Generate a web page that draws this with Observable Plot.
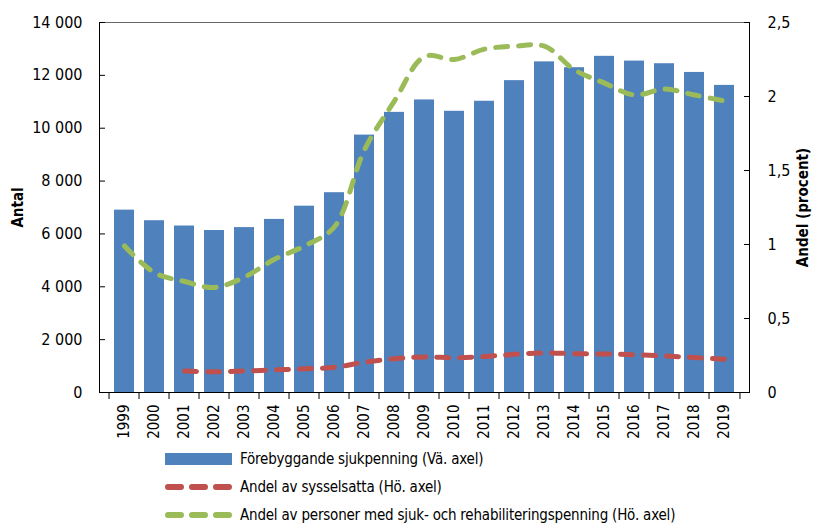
<!DOCTYPE html>
<html><head><meta charset="utf-8">
<script src="https://cdn.jsdelivr.net/npm/d3@7"></script>
<script src="https://cdn.jsdelivr.net/npm/@observablehq/plot@0.6"></script>
<style>
body{margin:0;background:#fff;font-family:"Liberation Sans Narrow","DejaVu Sans Condensed",sans-serif;}
#chart svg{display:block;}
#legend{position:relative;width:814px;height:85px;}
.row{position:absolute;left:165px;height:18px;display:flex;align-items:center;font-size:15px;letter-spacing:-0.2px;color:#000;white-space:nowrap;}
.row svg{display:block;margin-right:8px;}
</style></head><body>
<div id="chart"></div>
<div id="legend"></div>
<script>
const years = ["1999","2000","2001","2002","2003","2004","2005","2006","2007","2008","2009","2010","2011","2012","2013","2014","2015","2016","2017","2018","2019"];
const antal = [6900,6500,6300,6130,6240,6550,7050,7560,9740,10600,11070,10640,11020,11800,12510,12290,12720,12540,12440,12110,11620];
const andelSysselsatta = [null,null,0.145,0.14,0.145,0.153,0.16,0.17,0.205,0.228,0.24,0.235,0.243,0.258,0.268,0.262,0.26,0.255,0.247,0.236,0.225];
const andelSjukRehab = [0.99,0.81,0.75,0.71,0.78,0.90,0.99,1.12,1.64,1.97,2.27,2.25,2.32,2.34,2.34,2.18,2.09,2.01,2.05,2.01,1.97];
const leftTicks = [0,2000,4000,6000,8000,10000,12000,14000];
const rightTicks = [0,0.5,1,1.5,2,2.5];
const seriesNames = ["Förebyggande sjukpenning (Vä. axel)","Andel av sysselsatta (Hö. axel)","Andel av personer med sjuk- och rehabiliteringspenning (Hö. axel)"];
const colors = ["#4F81BD","#C0504D","#9BBB59"];
const leftTitle = "Antal", rightTitle = "Andel (procent)";

const leftMax = 14000, rightMax = 2.5, k = leftMax / rightMax;
const se = d3.formatLocale({decimal: ",", thousands: " ", grouping: [3], currency: ["", " kr"]});
const fmtL = se.format(",d");
const fmtR = d => String(Math.round(d / k * 10) / 10).replace(".", ",");

const bars = years.map((y, i) => ({year: y, value: antal[i]}));
const red = years.map((y, i) => ({year: y, value: andelSysselsatta[i]})).filter(d => d.value != null);
const green = years.map((y, i) => ({year: y, value: andelSjukRehab[i]}));

const W = 814, H = 440, ML = 99, MR = 65, MT = 22, MB = 48;
const step = (W - ML - MR) / years.length;
const font = '"Liberation Sans Narrow","DejaVu Sans Condensed",sans-serif';

const chart = Plot.plot({
  width: W, height: H, marginLeft: ML, marginRight: MR, marginTop: MT, marginBottom: MB,
  style: {fontFamily: font, fontSize: "16px", color: "#000", background: "#fff"},
  x: {type: "band", domain: years, paddingInner: 0.33, paddingOuter: 0.165, label: null},
  y: {domain: [0, leftMax], label: null},
  marks: [
    Plot.barY(bars, {x: "year", y: "value", fill: colors[0]}),
    Plot.line(red, {x: "year", y: d => d.value * k, stroke: colors[1], strokeWidth: 5, strokeDasharray: "12,11", strokeLinecap: "round", curve: "catmull-rom"}),
    Plot.line(green, {x: "year", y: d => d.value * k, stroke: colors[2], strokeWidth: 5, strokeDasharray: "12,11", strokeLinecap: "round", curve: "catmull-rom"}),
    Plot.frame({anchor: "top", stroke: "#666"}),
    Plot.frame({anchor: "left", stroke: "#000"}),
    Plot.frame({anchor: "right", stroke: "#000"}),
    Plot.frame({anchor: "bottom", stroke: "#000"}),
    Plot.axisY({ticks: leftTicks, tickFormat: fmtL, tickSize: 0, tickPadding: 17, label: null}),
    Plot.axisY({ticks: leftTicks, tickFormat: () => "", tickSize: 6, dx: 6, label: null}),
    Plot.axisY({anchor: "right", ticks: rightTicks.map(v => v * k), tickFormat: fmtR, tickSize: 0, tickPadding: 18, label: null}),
    Plot.axisY({anchor: "right", ticks: rightTicks.map(v => v * k), tickFormat: () => "", tickSize: 6, dx: -6, label: null}),
    Plot.text(years, {x: d => d, text: d => d, frameAnchor: "bottom", rotate: -90, textAnchor: "end", lineAnchor: "middle", dy: 12, fontSize: 15}),
    Plot.axisX({tickSize: 7, tickFormat: () => "", dx: -step / 2, label: null}),
    Plot.axisX({ticks: [years[years.length - 1]], tickSize: 7, tickFormat: () => "", dx: step / 2, label: null}),
    Plot.text([leftTitle], {text: d => d, frameAnchor: "left", textAnchor: "middle", lineAnchor: "middle", dx: -81, rotate: -90, fontWeight: "bold", fontSize: 15}),
    Plot.text([rightTitle], {text: d => d, frameAnchor: "right", textAnchor: "middle", lineAnchor: "middle", dx: 54, rotate: -90, fontWeight: "bold", fontSize: 15})
  ]
});
document.getElementById("chart").append(chart);

const legend = document.getElementById("legend");
const rowsY = [10, 38, 66];
seriesNames.forEach((name, i) => {
  const row = document.createElement("div");
  row.className = "row";
  row.style.top = rowsY[i] + "px";
  let sw;
  if (i === 0) {
    sw = `<svg width="67" height="14"><rect x="0" y="1" width="67" height="12" fill="${colors[0]}"/></svg>`;
  } else {
    sw = `<svg width="67" height="14"><line x1="3" y1="7" x2="64" y2="7" stroke="${colors[i]}" stroke-width="6" stroke-linecap="round" stroke-dasharray="13,11"/></svg>`;
  }
  row.innerHTML = sw + `<span>${name}</span>`;
  legend.append(row);
});
</script>
</body></html>
